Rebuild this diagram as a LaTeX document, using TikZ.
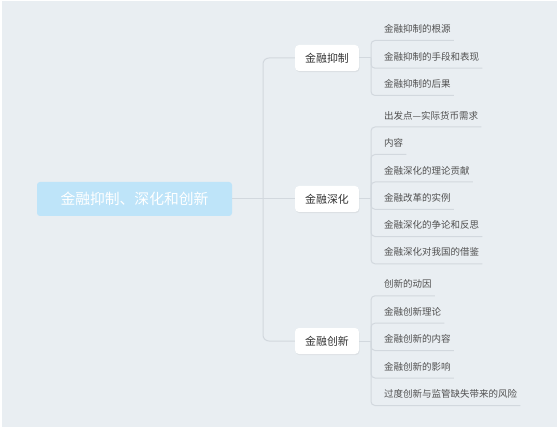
\documentclass[tikz,border=0pt]{standalone}
\usepackage{fontspec}
\setmainfont{Noto Sans CJK SC}
\usetikzlibrary{shadows}
\definecolor{bg}{HTML}{E9EEF2}
\definecolor{rootblue}{HTML}{BEE4F9}
\definecolor{lineg}{HTML}{D2D8DE}
\definecolor{leaftext}{HTML}{505050}
\definecolor{midtext}{HTML}{333333}
\tikzset{
  rootbox/.style={fill=rootblue, rounded corners=3pt, minimum width=195pt, minimum height=34pt,
    text=white, font=\fontsize{14.8}{16}\selectfont, inner sep=0pt},
  midbox/.style={fill=white, rounded corners=4pt, minimum width=64pt, minimum height=26pt,
    text=midtext, font=\fontsize{10.9}{12}\selectfont, inner sep=0pt,
    drop shadow={opacity=0.12, shadow xshift=0.6pt, shadow yshift=-1.2pt}},
  leaf/.style={anchor=west, inner xsep=3pt, inner ysep=0pt, text=leaftext,
    font=\fontsize{9.5}{11}\selectfont},
  conn/.style={draw=lineg, line width=1pt, rounded corners=4pt},
}
\begin{document}
\begin{tikzpicture}[x=1pt,y=-1pt]
\fill[white] (0,0) rectangle (558,428);
\fill[bg] (1.5,1.5) rectangle (556.5,426.5);
\useasboundingbox (0,0) rectangle (558,428);

% main nodes
\node[rootbox] (root) at (134.5,199) {金融抑制、深化和创新};
\node[midbox] (n1) at (327,58) {金融抑制};
\node[midbox] (n2) at (327,199) {金融深化};
\node[midbox] (n3) at (327,341) {金融创新};

\coordinate (t) at (263,199);
\draw[conn] (root.east) -- (n2.west);
\draw[conn,rounded corners=6pt] (n1.west) -| (t) |- (n3.west);

% bracket points
\coordinate (b1) at (371,58);
\coordinate (b2) at (371,199);
\coordinate (b3) at (371,341);
\draw[conn] (n1.east) -- (b1);
\draw[conn] (n2.east) -- (b2);
\draw[conn] (n3.east) -- (b3);

% group 1
\node[leaf] (a1) at (381,29) {金融抑制的根源};
\node[leaf] (a2) at (381,56.7) {金融抑制的手段和表现};
\node[leaf] (a3) at (381,84) {金融抑制的后果};
\foreach \l in {a1,a2,a3}{\draw[conn] (b1) |- ([yshift=-11.5pt]\l.east);}

% group 2
\node[leaf] (c1) at (381,115.5) {出发点—实际货币需求};
\node[leaf] (c2) at (381,143) {内容};
\node[leaf] (c3) at (381,170.5) {金融深化的理论贡献};
\node[leaf] (c4) at (381,197.8) {金融改革的实例};
\node[leaf] (c5) at (381,225) {金融深化的争论和反思};
\node[leaf] (c6) at (381,252.3) {金融深化对我国的借鉴};
\foreach \l in {c1,c2,c3,c4,c5,c6}{\draw[conn] (b2) |- ([yshift=-11.5pt]\l.east);}

% group 3
\node[leaf] (d1) at (381,284.3) {创新的动因};
\node[leaf] (d2) at (381,311.7) {金融创新理论};
\node[leaf] (d3) at (381,339) {金融创新的内容};
\node[leaf] (d4) at (381,366.5) {金融创新的影响};
\node[leaf] (d5) at (381,394) {过度创新与监管缺失带来的风险};
\foreach \l in {d1,d2,d3,d4,d5}{\draw[conn] (b3) |- ([yshift=-11.5pt]\l.east);}
\end{tikzpicture}
\end{document}
